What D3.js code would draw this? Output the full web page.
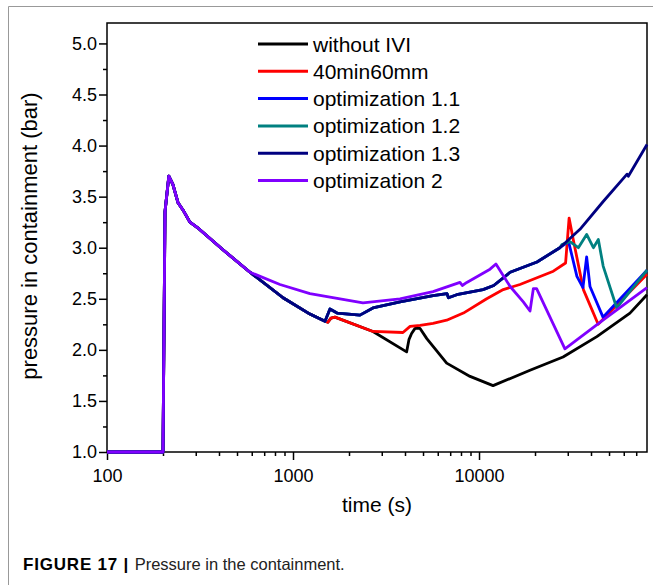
<!DOCTYPE html>
<meta charset="utf-8">
<head>
    <title>Pressure in the containment</title>
    <script src="https://d3js.org/d3.v7.min.js"></script>
    <style>
        body { margin: 0; background: #fff; }
        svg text { font-family: "Liberation Sans", Arial, sans-serif; fill: #000; }
        .axis path, .axis line { stroke: #000; stroke-width: 1.5; }
        .caption { font-size: 16.5px; }
    </style>
</head>
<body>
<svg id="chart" width="653" height="585"></svg>
<script>
    // series names and colours (legend order = draw order)
    var names = ["without IVI", "40min60mm", "optimization 1.1", "optimization 1.2", "optimization 1.3", "optimization 2"];
    var colors = ["#000000", "#ff0000", "#0000ff", "#008080", "#000080", "#8000ff"];

    // [time (s), pressure (bar)]
    var commonRise = [[100, 1.0], [200, 1.0], [205, 3.35], [215, 3.70], [226, 3.62], [241, 3.44], [256, 3.37],
        [279, 3.25], [305, 3.20], [420, 2.98], [587, 2.76]];
    var commonLow = [[884, 2.51], [1233, 2.35], [1486, 2.28]];
    var navyMid = [[1580, 2.40], [1725, 2.36], [2290, 2.34], [2690, 2.41], [3760, 2.47], [5660, 2.53], [6730, 2.55],
        [6850, 2.51], [7590, 2.54], [10510, 2.59], [12000, 2.63], [14700, 2.76], [20500, 2.86], [27200, 3.00]];
    var navyTail = [[34900, 3.18], [46400, 3.45], [62500, 3.72], [63500, 3.70], [80000, 4.01]];
    var blueTail = [[30300, 3.06], [33600, 2.72], [36200, 2.61], [37900, 2.91], [39500, 2.62], [46400, 2.32], [80000, 2.78]];
    var tealTail = [[27900, 3.03], [30800, 3.06], [34200, 3.00], [37900, 3.13], [41200, 3.00], [43800, 3.08],
        [46500, 2.82], [55000, 2.41], [80000, 2.78]];
    var redMid = [[1540, 2.27], [1600, 2.31], [1680, 2.32], [2690, 2.18]];
    var redTail = [[3900, 2.17], [4260, 2.23], [4820, 2.24], [5660, 2.26], [6700, 2.29], [8240, 2.36], [11000, 2.50],
        [13500, 2.59], [16600, 2.64], [25100, 2.77], [29200, 2.85], [30500, 3.29], [32100, 3.08], [36400, 2.59],
        [43700, 2.25], [80000, 2.74]];
    var blackTail = [[4080, 1.98], [4200, 2.10], [4340, 2.16], [4530, 2.21], [4820, 2.21], [5240, 2.11], [6700, 1.87],
        [8950, 1.74], [11900, 1.65], [18800, 1.80], [28300, 1.93], [43000, 2.13], [64800, 2.36], [80000, 2.54]];
    var purpleTail = [[851, 2.64], [1233, 2.55], [2377, 2.46], [3760, 2.50], [5660, 2.57], [7900, 2.66], [8130, 2.63],
        [8600, 2.66], [11460, 2.79], [12330, 2.84], [14700, 2.62], [17300, 2.47], [18800, 2.38], [19600, 2.60],
        [20400, 2.60], [28960, 2.01], [46400, 2.29], [80000, 2.61]];

    var xMajor = [100, 1000, 10000];
    var xMinor = [200, 300, 400, 500, 600, 700, 800, 900, 2000, 3000, 4000, 5000, 6000, 7000, 8000, 9000,
        20000, 30000, 40000, 50000, 60000, 70000];
    var yMajor = [1.0, 1.5, 2.0, 2.5, 3.0, 3.5, 4.0, 4.5, 5.0];
    var yMinor = [1.25, 1.75, 2.25, 2.75, 3.25, 3.75, 4.25, 4.75];

    var series = [
        commonRise.concat(commonLow, redMid, blackTail),
        commonRise.concat(commonLow, redMid, redTail),
        commonRise.concat(commonLow, navyMid, blueTail),
        commonRise.concat(commonLow, navyMid, tealTail),
        commonRise.concat(commonLow, navyMid, navyTail),
        commonRise.concat(purpleTail)
    ];

    var plotL = 107, plotR = 647, plotT = 23, plotB = 452;

    var svg = d3.select("#chart");

    // outer figure frame (top + left)
    svg.append("path")
        .attr("d", "M8.5,585V6.5H653")
        .attr("fill", "none")
        .attr("stroke", "#999")
        .attr("stroke-width", 1);

    var x = d3.scaleLog().domain([100, 80000]).range([plotL, plotR]);
    var y = d3.scaleLinear().domain([1, 5.2]).range([plotB, plotT]);

    // axes
    svg.append("g").attr("class", "axis")
        .attr("transform", "translate(0," + plotB + ")")
        .call(d3.axisBottom(x).tickValues(xMinor).tickSize(4).tickFormat(""))
        .select(".domain").remove();
    var gx = svg.append("g").attr("class", "axis")
        .attr("transform", "translate(0," + plotB + ")")
        .call(d3.axisBottom(x).tickValues(xMajor).tickSize(8).tickPadding(9).tickFormat(d3.format("d")));
    gx.selectAll("text").style("font-size", "18px");

    svg.append("g").attr("class", "axis")
        .attr("transform", "translate(" + plotL + ",0)")
        .call(d3.axisLeft(y).tickValues(yMinor).tickSize(4).tickFormat(""))
        .select(".domain").remove();
    var gy = svg.append("g").attr("class", "axis")
        .attr("transform", "translate(" + plotL + ",0)")
        .call(d3.axisLeft(y).tickValues(yMajor).tickSize(8).tickPadding(2).tickFormat(d3.format(".1f")));
    gy.selectAll("text").style("font-size", "18px");
    gx.select(".domain").remove();
    gy.select(".domain").remove();

    // plot frame
    svg.append("rect")
        .attr("x", plotL).attr("y", plotT)
        .attr("width", plotR - plotL).attr("height", plotB - plotT)
        .attr("fill", "none")
        .attr("stroke", "#000")
        .attr("stroke-width", 1.5);

    // curves
    var line = d3.line()
        .x(function (d) { return x(d[0]); })
        .y(function (d) { return y(d[1]); });

    svg.append("g")
        .selectAll("path")
        .data(series)
        .enter()
        .append("path")
        .attr("d", line)
        .attr("fill", "none")
        .attr("stroke", function (d, i) { return colors[i]; })
        .attr("stroke-width", 2.8)
        .attr("stroke-linejoin", "round");

    // legend
    var legend = svg.append("g").attr("transform", "translate(258,44)");
    names.forEach(function (n, i) {
        legend.append("line")
            .attr("x1", 0).attr("x2", 50)
            .attr("y1", i * 27.3).attr("y2", i * 27.3)
            .attr("stroke", colors[i])
            .attr("stroke-width", 3);
        legend.append("text")
            .attr("x", 55).attr("y", i * 27.3 + 7.5)
            .style("font-size", "21px")
            .text(n);
    });

    // axis titles
    svg.append("text")
        .attr("x", (plotL + plotR) / 2).attr("y", 512)
        .attr("text-anchor", "middle")
        .style("font-size", "21px")
        .text("time (s)");

    svg.append("text")
        .attr("transform", "translate(37,236) rotate(-90)")
        .attr("text-anchor", "middle")
        .style("font-size", "22px")
        .text("pressure in containment (bar)");

    // caption
    var cap = svg.append("text").attr("class", "caption").attr("x", 23).attr("y", 570);
    cap.append("tspan").style("font-weight", "bold").style("font-size", "17px")
        .style("letter-spacing", "0.8px").text("FIGURE 17 | ");
    cap.append("tspan").style("fill", "#222").text("Pressure in the containment.");
</script>
</body>
